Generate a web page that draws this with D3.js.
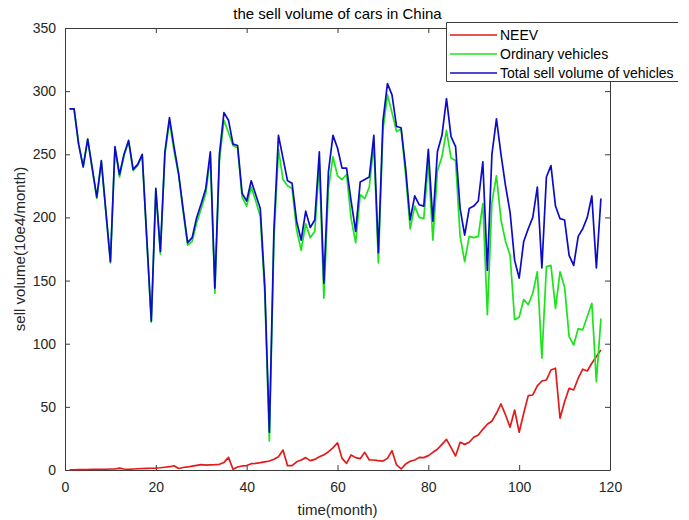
<!DOCTYPE html>
<html>
<head>
<meta charset="utf-8">
<script src="https://cdn.jsdelivr.net/npm/d3@7"></script>
<style>
  html, body { margin: 0; padding: 0; background: #fff; }
  svg { display: block; font-family: "Liberation Sans", Arial, sans-serif; }
</style>
</head>
<body>
<svg id="chart" width="689" height="520"></svg>
<script>
// Monthly sell volume (10e4 units), months 1..118
const months = d3.range(1, 119);

const neev = [
  0.2, 0.2, 0.3, 0.3, 0.4, 0.5, 0.5, 0.6, 0.6, 0.8,
  0.8, 1.5, 0.8, 0.5, 0.8, 1.0, 1.2, 1.3, 1.4, 1.5,
  1.8, 2.2, 2.6, 3.4, 1.2, 2.0, 2.4, 3.0, 3.6, 4.2,
  3.8, 4.0, 4.2, 4.5, 6.0, 10.0, 0.6, 2.4, 3.2, 3.5,
  5.0, 5.3, 5.8, 6.5, 7.1, 8.5, 10.5, 15.8, 3.4, 3.4,
  6.5, 7.9, 9.8, 7.4, 8.4, 10.5, 12.0, 14.5, 17.5, 21.5,
  9.2, 5.3, 11.9, 9.8, 9.0, 14.0, 7.9, 7.9, 7.4, 7.1,
  9.2, 15.3, 4.0, 0.8, 4.7, 6.9, 7.9, 10.0, 9.8, 11.4,
  14.0, 16.4, 20.3, 24.3, 17.7, 11.1, 21.9, 20.3, 22.0, 25.9,
  27.7, 32.2, 36.2, 38.8, 44.9, 52.3, 43.6, 33.8, 47.5, 29.9,
  44.9, 58.9, 59.4, 66.6, 70.5, 71.3, 79.2, 80.6, 41.0, 54.0,
  64.7, 63.4, 72.7, 79.8, 78.4, 84.5, 89.8, 95.0
];

const ordinary = [
  286, 286, 258, 240, 262, 238, 215, 244, 204, 164,
  255, 232, 249, 260, 237, 241, 249, 183, 117, 221,
  171, 250, 276, 253, 234, 205, 178, 181, 196, 207,
  219, 248, 140, 245, 277, 267, 257, 255, 216, 209,
  224, 213, 201, 139, 23, 182, 254, 230, 225, 223,
  190, 174, 195, 184, 189, 243, 136, 223, 248, 233,
  230, 234, 199, 180, 218, 215, 224, 258, 164, 269,
  297, 283, 268, 270, 234, 191, 209, 200, 199, 244,
  182, 237, 248, 269, 247, 245, 185, 165, 185, 184,
  185, 211, 123, 212, 233, 198, 181, 170, 119, 121,
  135, 131, 140, 157, 88.5, 161, 162, 128, 157, 145,
  105.6, 99, 112, 111, 121.5, 132, 70, 120
];

const total = [
  286, 286, 258, 240, 262, 239, 216, 245, 205, 165,
  256, 234, 250, 261, 238, 242, 250, 184, 118, 223,
  173, 252, 279, 256, 235, 207, 180, 184, 200, 211,
  223, 252, 144, 250, 283, 277, 258, 257, 219, 213,
  229, 218, 207, 145, 30, 190, 265, 247, 229, 227,
  197, 182, 205, 192, 198, 252, 148, 236, 265, 255,
  239, 239, 213, 189, 228, 230, 232, 265, 172, 276,
  306, 297, 272, 271, 239, 198, 217, 210, 209, 254,
  197, 252, 265, 294, 264, 256, 207, 186, 207, 209,
  213, 244, 158, 250, 278, 250, 225, 204, 166, 152,
  181, 191, 200, 224, 160, 232, 241, 209, 199, 198,
  170, 162, 185, 191, 200, 217, 160, 215
];

const xTicks = [0, 20, 40, 60, 80, 100, 120];
const yTicks = [0, 50, 100, 150, 200, 250, 300, 350];

const seriesNames = ["NEEV", "Ordinary vehicles", "Total sell volume of vehicles"];
const seriesColors = ["#e41a1a", "#1be41b", "#0c0cc8"];
const seriesData = [neev, ordinary, total];

const titleText = "the sell volume of cars in China";
const xLabel = "time(month)";
const yLabel = "sell volume(10e4/month)";

// Layout
const plot = { left: 65, right: 610, top: 28, bottom: 470 };
const axisColor = "#3a3a3a";
const textColor = "#262626";

const svg = d3.select("#chart");

const x = d3.scaleLinear().domain([0, 120]).range([plot.left, plot.right]);
const y = d3.scaleLinear().domain([0, 350]).range([plot.bottom, plot.top]);

const tickLen = 5;

// Bottom axis (ticks point inward)
const gx = svg.append("g")
  .attr("transform", `translate(0,${plot.bottom})`)
  .call(d3.axisBottom(x).tickValues(xTicks).tickSizeInner(-tickLen).tickSizeOuter(0).tickPadding(12));
// Left axis
const gy = svg.append("g")
  .attr("transform", `translate(${plot.left},0)`)
  .call(d3.axisLeft(y).tickValues(yTicks).tickSizeInner(-tickLen).tickSizeOuter(0).tickPadding(9));
// Top and right axes: ticks only
const gxTop = svg.append("g")
  .attr("transform", `translate(0,${plot.top})`)
  .call(d3.axisTop(x).tickValues(xTicks).tickSizeInner(-tickLen).tickSizeOuter(0).tickFormat(""));
const gyRight = svg.append("g")
  .attr("transform", `translate(${plot.right},0)`)
  .call(d3.axisRight(y).tickValues(yTicks).tickSizeInner(-tickLen).tickSizeOuter(0).tickFormat(""));

[gx, gy, gxTop, gyRight].forEach(g => {
  g.selectAll(".domain").attr("stroke", axisColor).attr("stroke-width", 1);
  g.selectAll(".tick line").attr("stroke", axisColor).attr("stroke-width", 1);
  g.selectAll(".tick text")
    .attr("fill", textColor)
    .style("font-size", "14px")
    .style("font-family", "'Liberation Sans', Arial, sans-serif");
});

// Lines
const line = d3.line()
  .x((d, i) => x(months[i]))
  .y(d => y(d));

seriesData.forEach((data, k) => {
  svg.append("path")
    .datum(data)
    .attr("fill", "none")
    .attr("stroke", seriesColors[k])
    .attr("stroke-width", 1.7)
    .attr("stroke-linejoin", "round")
    .attr("d", line);
});

// Title and axis labels
svg.append("text")
  .attr("x", (plot.left + plot.right) / 2)
  .attr("y", 19)
  .attr("text-anchor", "middle")
  .attr("fill", "#000")
  .style("font-size", "15px")
  .text(titleText);

svg.append("text")
  .attr("x", (plot.left + plot.right) / 2)
  .attr("y", 515)
  .attr("text-anchor", "middle")
  .attr("fill", textColor)
  .style("font-size", "15px")
  .text(xLabel);

svg.append("text")
  .attr("transform", `translate(25,${(plot.top + plot.bottom) / 2}) rotate(-90)`)
  .attr("text-anchor", "middle")
  .attr("fill", textColor)
  .style("font-size", "15px")
  .text(yLabel);

// Legend
const legend = svg.append("g");
legend.append("rect")
  .attr("x", 446.5).attr("y", 22.5)
  .attr("width", 240).attr("height", 59)
  .attr("fill", "#fff");
legend.append("path")
  .attr("d", "M678,22.5 H446.5 V81.5 H678")
  .attr("fill", "none")
  .attr("stroke", axisColor)
  .attr("stroke-width", 1);

seriesNames.forEach((name, k) => {
  const yy = 35 + k * 19;
  legend.append("line")
    .attr("x1", 450).attr("x2", 497)
    .attr("y1", yy).attr("y2", yy)
    .attr("stroke", seriesColors[k])
    .attr("stroke-width", 1.5);
  legend.append("text")
    .attr("x", 500).attr("y", yy + 5)
    .attr("fill", "#000")
    .style("font-size", "14px")
    .text(name);
});
</script>
</body>
</html>
